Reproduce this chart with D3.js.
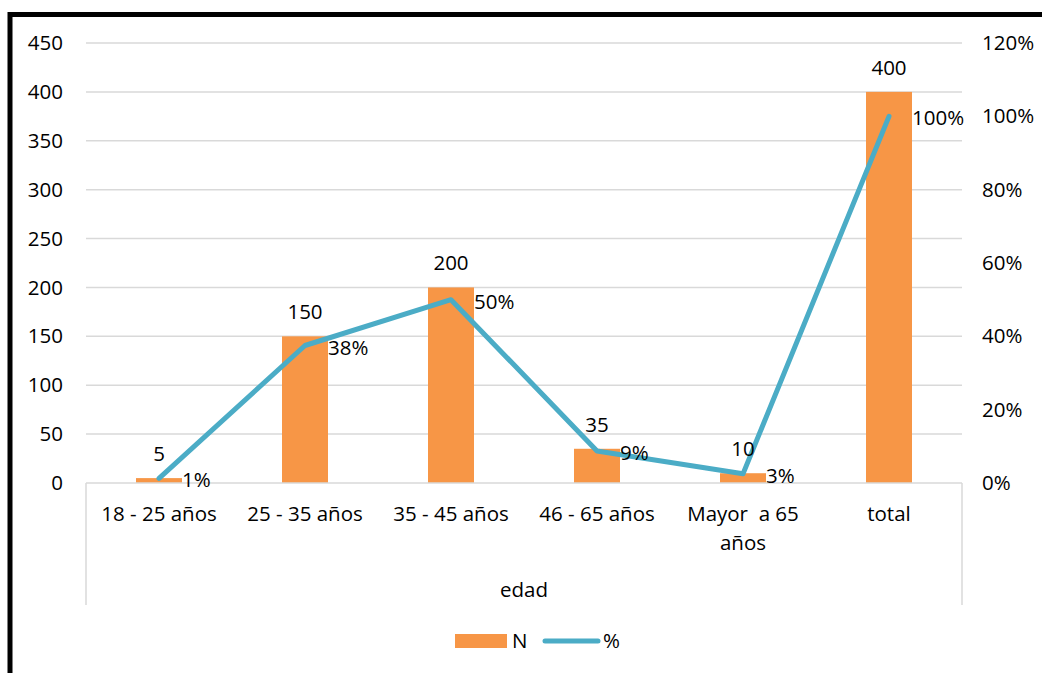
<!DOCTYPE html>
<html><head><meta charset="utf-8">
<script src="https://cdn.jsdelivr.net/npm/d3@7"></script>
<style>body{margin:0;background:#fff}svg{display:block}text{font-family:"Open Sans",sans-serif;fill:#000}</style>
</head><body><svg id="c" width="1042" height="673"></svg>
<script>
const categories = ["18 - 25 años","25 - 35 años","35 - 45 años","46 - 65 años","Mayor  a 65 años","total"];
const nValues = [5,150,200,35,10,400];
const pctValues = [0.0125,0.375,0.5,0.0875,0.025,1.0];
const pctLabels = ["1%","38%","50%","9%","3%","100%"];
const leftTicks = [0,50,100,150,200,250,300,350,400,450];
const rightTicks = [0,0.2,0.4,0.6,0.8,1.0,1.2];
const axisTitle = "edad";
const seriesNames = ["N","%"];

const svg = d3.select("#c");
const fs = 20.5;
const L=86,R=962,T=43,B=483;
const barColor="#F79646", lineColor="#4BACC6", gridColor="#d9d9d9";

svg.append("rect").attr("x",10).attr("y",14.5).attr("width",1100).attr("height",700)
  .attr("fill","none").attr("stroke","#000").attr("stroke-width",5);

const x = d3.scaleBand().domain(categories).range([L,R]).paddingInner(0).paddingOuter(0);
const yL = d3.scaleLinear().domain([0,450]).range([B,T]);
const yR = d3.scaleLinear().domain([0,1.2]).range([B,T]);

svg.append("g").selectAll("line").data(leftTicks.filter(d=>d>0)).join("line")
  .attr("x1",L).attr("x2",R).attr("y1",d=>yL(d)).attr("y2",d=>yL(d))
  .attr("stroke",gridColor).attr("stroke-width",1.5);

const gl = svg.append("g").attr("transform",`translate(${L},0)`)
  .call(d3.axisLeft(yL).tickValues(leftTicks).tickSize(0).tickPadding(23));
gl.select(".domain").remove();
gl.selectAll("text").style("font-size",fs+"px").style("font-family","Open Sans");

const gr = svg.append("g").attr("transform",`translate(${R},0)`)
  .call(d3.axisRight(yR).tickValues(rightTicks).tickSize(0).tickPadding(20).tickFormat(d3.format(".0%")));
gr.select(".domain").remove();
gr.selectAll("text").style("font-size",fs+"px").style("font-family","Open Sans");

const bw = 46;
svg.append("g").selectAll("rect").data(nValues).join("rect")
  .attr("x",(d,i)=>x(categories[i])+x.bandwidth()/2-bw/2)
  .attr("width",bw)
  .attr("y",d=>yL(d)).attr("height",d=>B-yL(d))
  .attr("fill",barColor);

svg.append("line").attr("x1",L).attr("x2",R).attr("y1",B).attr("y2",B).attr("stroke",gridColor).attr("stroke-width",1.5);
svg.append("line").attr("x1",L).attr("x2",L).attr("y1",B).attr("y2",605).attr("stroke",gridColor).attr("stroke-width",1.5);
svg.append("line").attr("x1",R).attr("x2",R).attr("y1",B).attr("y2",605).attr("stroke",gridColor).attr("stroke-width",1.5);

const cat = svg.append("g").selectAll("text").data(categories).join("text")
  .attr("text-anchor","middle").style("font-size",fs+"px")
  .attr("x",d=>x(d)+x.bandwidth()/2).attr("y",521);
cat.each(function(d){
  const t=d3.select(this);
  if(d.startsWith("Mayor")){
    t.append("tspan").attr("x",x(d)+x.bandwidth()/2).attr("dy",0).text("Mayor  a 65").style("white-space","pre");
    t.append("tspan").attr("x",x(d)+x.bandwidth()/2).attr("dy",29).text("años");
  } else t.text(d);
});

svg.append("text").attr("x",(L+R)/2).attr("y",597).attr("text-anchor","middle").style("font-size",fs+"px").text(axisTitle);

const line = d3.line().x((d,i)=>x(categories[i])+x.bandwidth()/2).y(d=>yR(d));
svg.append("path").datum(pctValues).attr("d",line).attr("fill","none")
  .attr("stroke",lineColor).attr("stroke-width",5).attr("stroke-linejoin","round").attr("stroke-linecap","round");

svg.append("g").selectAll("text").data(nValues).join("text")
  .attr("text-anchor","middle").style("font-size",fs+"px")
  .attr("x",(d,i)=>x(categories[i])+x.bandwidth()/2).attr("y",d=>yL(d)-17).text(d=>d);

svg.append("g").selectAll("text").data(pctValues).join("text")
  .attr("text-anchor","start").style("font-size",fs+"px")
  .attr("x",(d,i)=>x(categories[i])+x.bandwidth()/2+23).attr("y",d=>yR(d)+9).text((d,i)=>pctLabels[i]);

const lg = svg.append("g");
lg.append("rect").attr("x",455).attr("y",634).attr("width",52).attr("height",14).attr("fill",barColor);
lg.append("text").attr("x",512).attr("y",648).style("font-size",fs+"px").text(seriesNames[0]);
lg.append("line").attr("x1",545).attr("x2",598).attr("y1",641).attr("y2",641).attr("stroke",lineColor).attr("stroke-width",5).attr("stroke-linecap","round");
lg.append("text").attr("x",603).attr("y",648).style("font-size",fs+"px").text(seriesNames[1]);
</script></body></html>
